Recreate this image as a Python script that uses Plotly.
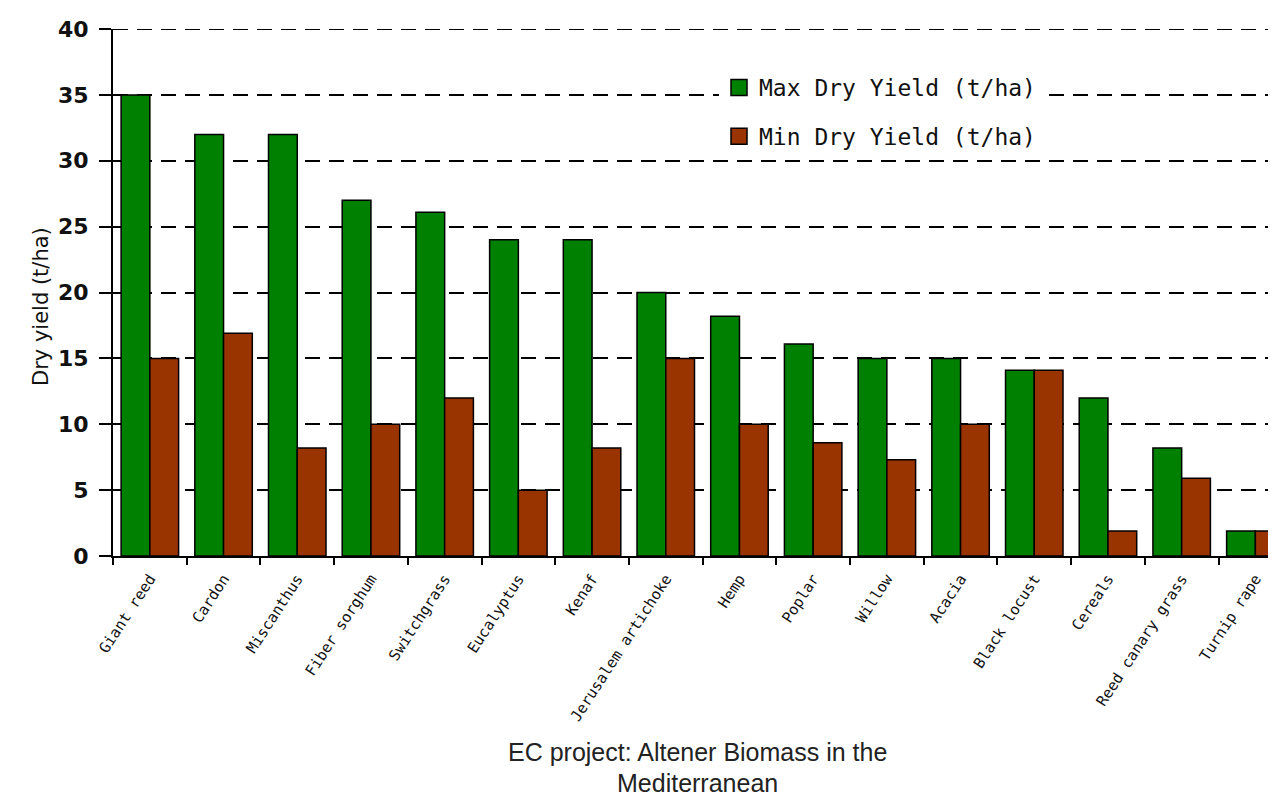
import plotly.graph_objects as go

crops = ["Giant reed", "Cardon", "Miscanthus", "Fiber sorghum", "Switchgrass",
         "Eucalyptus", "Kenaf", "Jerusalem artichoke", "Hemp", "Poplar", "Willow",
         "Acacia", "Black locust", "Cereals", "Reed canary grass", "Turnip rape"]
max_yield = [35, 32, 32, 27, 26.1, 24, 24, 20, 18.2, 16.1, 15, 15, 14.1, 12, 8.2, 1.9]
min_yield = [15, 16.9, 8.2, 10, 12, 5, 8.2, 15, 10, 8.6, 7.3, 10, 14.1, 1.9, 5.9, 1.9]
y_ticks = [0, 5, 10, 15, 20, 25, 30, 35, 40]
series_names = ["Max Dry Yield (t/ha)", "Min Dry Yield (t/ha)"]
series_colors = ["#008000", "#993300"]
title_lines = ["EC project: Altener Biomass in the", "Mediterranean"]

# page body has an 8px margin; figure is sized so the screen layout matches
OFF = 8
W, H = 1276 - OFF, 800 - OFF
L, R, T = 113 - OFF, 0, 29 - OFF
B = H - (556 - OFF)
pw = W - L - R
ph = H - T - B

def px(x):
    return (x - OFF - L) / pw

def py(y):
    return ((556 - OFF) - (y - OFF)) / ph

fig = go.Figure()
for vals, name, col in zip([max_yield, min_yield], series_names, series_colors):
    fig.add_trace(go.Bar(x=crops, y=vals, name=name,
                         marker=dict(color=col, line=dict(color="black", width=1.5)),
                         showlegend=False))
# legend entries with larger square swatches
for name, col in zip(series_names, series_colors):
    fig.add_trace(go.Scatter(x=[None], y=[None], mode="markers", name=name,
                             marker=dict(symbol="square", size=16, color=col,
                                         line=dict(color="black", width=1.5)),
                             legendgroup=name))

fig.update_layout(
    width=W, height=H,
    margin=dict(l=L, r=R, t=T, b=B, pad=0),
    paper_bgcolor="white", plot_bgcolor="white",
    barmode="group", bargap=0.22, bargroupgap=0,
    font=dict(family="DejaVu Sans", color="black"),
    legend=dict(x=px(719), y=py(66), xanchor="left", yanchor="top",
                bgcolor="white", font=dict(size=23, family="DejaVu Sans Mono", color="#111"),
                tracegroupgap=16, itemsizing="trace", itemwidth=30),
    showlegend=True,
)
fig.update_xaxes(
    type="category",
    range=[-0.5, 15.28],
    showline=True, linecolor="black", linewidth=2,
    ticks="outside", ticklen=7, tickwidth=1.5, tickcolor="black", tickson="boundaries",
    ticklabelstandoff=6,
    tickangle=-57, tickfont=dict(size=15, family="DejaVu Sans Mono", color="#111"),
    showgrid=False,
)
fig.update_yaxes(
    range=[0, 40], tickvals=y_ticks,
    showline=True, linecolor="black", linewidth=2,
    ticks="outside", ticklen=12, tickwidth=2, tickcolor="black",
    ticklabelstandoff=6,
    tickfont=dict(size=22, family="DejaVu Sans", color="#111", weight="bold"),
    showgrid=True, gridcolor="black", gridwidth=2, griddash="15px,9px",
    zeroline=False,
)
# gridline at the top of the axis range
fig.add_shape(type="line", xref="paper", yref="y", x0=0, x1=1, y0=40, y1=40,
              line=dict(color="black", width=2, dash="15px,9px"), layer="below")

fig.add_annotation(text="Dry yield (t/ha)", textangle=-90, xref="paper", yref="paper",
                   x=px(27), y=py(307), showarrow=False,
                   font=dict(size=21, family="DejaVu Sans", color="#111"))
for line_text, yc in zip(title_lines, [752, 783]):
    fig.add_annotation(text=line_text, xref="paper", yref="paper",
                       x=px(697), y=py(yc), showarrow=False, yanchor="middle",
                       font=dict(size=25, family="Liberation Sans", color="#222"))

fig.write_html("out.html")
